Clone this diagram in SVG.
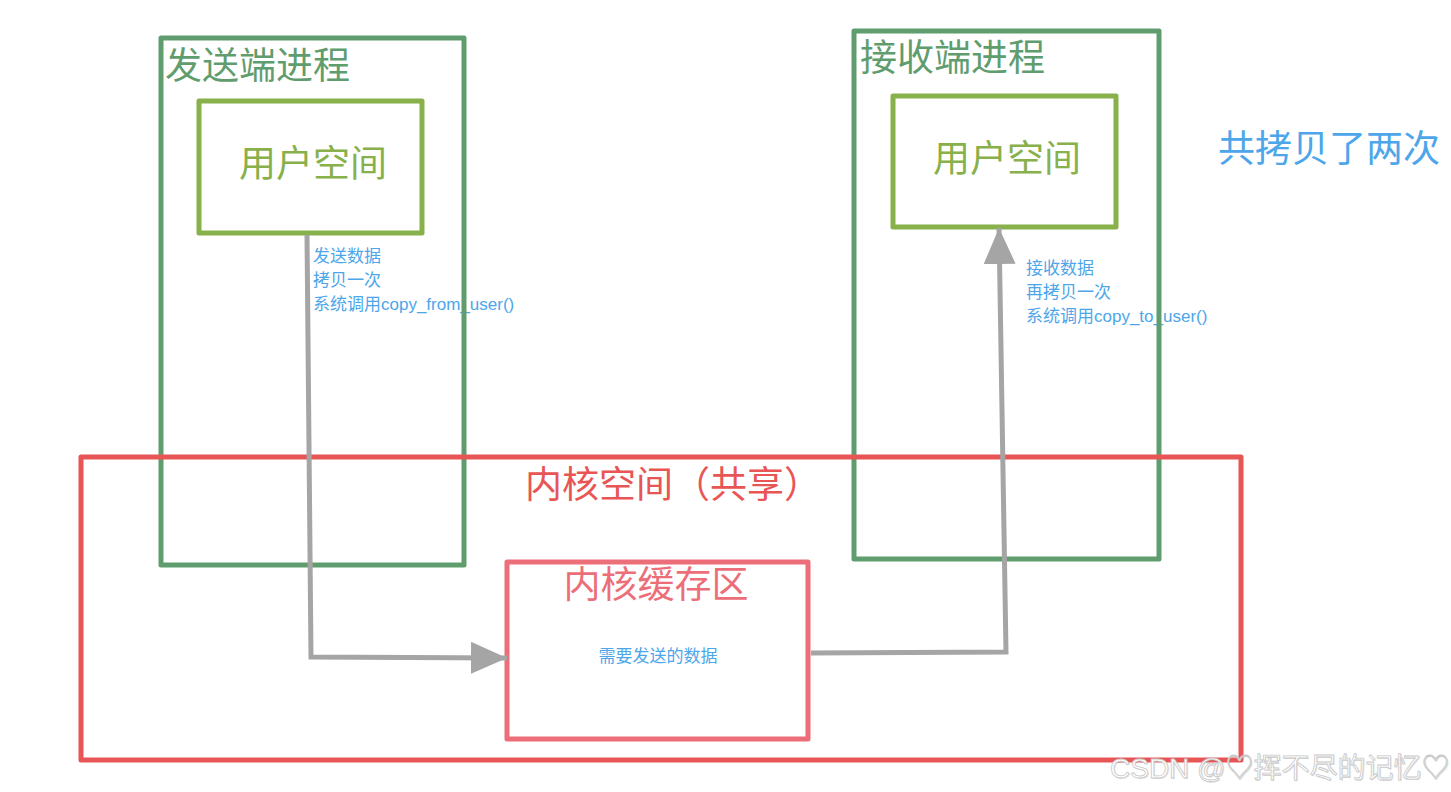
<svg xmlns="http://www.w3.org/2000/svg" width="1451" height="792" viewBox="0 0 1451 792">
<style>
text{font-family:"Liberation Sans","Noto Sans CJK SC",sans-serif}
.big{font-size:37px}
.small{font-size:17px;fill:#4da6ea}
.proc{fill:none;stroke:#5f9d6e;stroke-width:5;stroke-linejoin:round}
.user{fill:none;stroke:#88b04b;stroke-width:5;stroke-linejoin:round}
.conn{fill:none;stroke:#a5a5a5;stroke-width:5;stroke-linejoin:miter}
</style>
<defs>
<marker id="ah" markerUnits="userSpaceOnUse" markerWidth="36" markerHeight="32" refX="36" refY="16" orient="auto">
<path d="M0,0 L36,16 L0,32 Z" fill="#a5a5a5"/>
</marker>
</defs>
<rect width="1451" height="792" fill="#ffffff"/>
<g id="labels">
<text class="small" x="313" y="262">发送数据</text>
<text class="small" x="313" y="286">拷贝一次</text>
<text class="small" x="313" y="310">系统调用copy_from_user()</text>
<text class="small" x="1026" y="274">接收数据</text>
<text class="small" x="1026" y="298">再拷贝一次</text>
<text class="small" x="1026" y="322">系统调用copy_to_user()</text>
</g>
<g id="sender">
<rect class="proc" x="161" y="38" width="303" height="527"/>
<text class="big" x="165" y="79" fill="#5f9d6e">发送端进程</text>
</g>
<g id="sender-user">
<rect class="user" x="199" y="101" width="223" height="132"/>
<text class="big" x="313" y="177" fill="#88b04b" text-anchor="middle">用户空间</text>
</g>
<g id="receiver">
<rect class="proc" x="854" y="31" width="305" height="528"/>
<text class="big" x="860" y="71" fill="#5f9d6e">接收端进程</text>
</g>
<g id="receiver-user">
<rect class="user" x="893" y="96" width="223" height="131"/>
<text class="big" x="1007" y="172" fill="#88b04b" text-anchor="middle">用户空间</text>
</g>
<g id="kernel">
<rect x="81" y="457" width="1160" height="303" fill="none" stroke="#e85555" stroke-width="5" stroke-linejoin="round"/>
<text class="big" x="525" y="498" fill="#e85555">内核空间（共享）</text>
</g>
<g id="buffer">
<rect x="507" y="562" width="301" height="177" fill="none" stroke="#ec6e78" stroke-width="5" stroke-linejoin="round"/>
<text class="big" x="656" y="598" fill="#ec6e78" text-anchor="middle">内核缓存区</text>
<text class="small" x="658" y="662" text-anchor="middle">需要发送的数据</text>
</g>
<g id="connectors">
<path class="conn" d="M307,235 L311,657 L507,658" marker-end="url(#ah)"/>
<path class="conn" d="M811,653 L1006,652 L999,228" marker-end="url(#ah)"/>
</g>
<g id="info">
<text class="big" x="1218" y="162" fill="#4da6ea">共拷贝了两次</text>
</g>
<g id="watermark">
<text x="1111" y="779" font-size="28" fill="#888" opacity="0.25">CSDN @♡挥不尽的记忆♡</text>
<text x="1110" y="778" font-size="28" fill="#ffffff" stroke="#c8c8c8" stroke-width="0.8">CSDN @♡挥不尽的记忆♡</text>
</g>
</svg>
